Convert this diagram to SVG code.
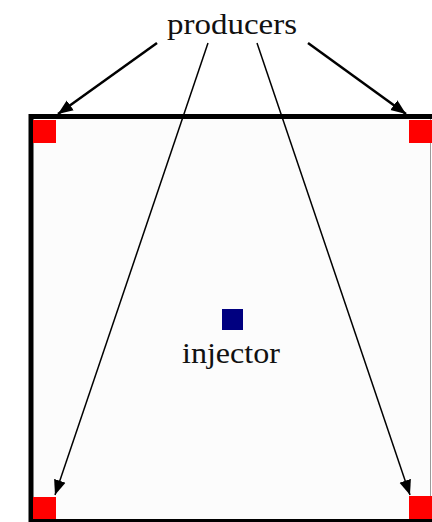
<svg xmlns="http://www.w3.org/2000/svg" width="432" height="522" viewBox="0 0 432 522">
<style>
.lbl{font-family:"Liberation Serif","Times New Roman",serif;font-size:30px;fill:#111}
.prod{fill:#ff0000}
.conn{stroke:#000;fill:none}
</style>
<defs>
<marker id="ah" markerUnits="userSpaceOnUse" markerWidth="16" markerHeight="14" viewBox="0 0 16 14" refX="15" refY="7" orient="auto">
<path d="M0,1 L15,7 L0,13 Z" fill="#000"/>
</marker>
</defs>
<rect width="432" height="522" fill="#fff"/>
<g id="field">
<rect x="31" y="116" width="400" height="404" fill="#fcfcfc"/>
<line x1="430.5" y1="116" x2="430.5" y2="522" stroke="#999" stroke-width="1"/>
<line x1="31" y1="114" x2="31" y2="522" stroke="#000" stroke-width="5"/>
<line x1="29" y1="116.5" x2="432" y2="116.5" stroke="#000" stroke-width="5"/>
<line x1="29" y1="520.5" x2="432" y2="520.5" stroke="#000" stroke-width="3"/>
</g>
<g id="producer-tl"><rect class="prod" x="33" y="120" width="23" height="23"/></g>
<g id="producer-tr"><rect class="prod" x="409" y="120" width="23" height="23"/></g>
<g id="producer-bl"><rect class="prod" x="33" y="497" width="23" height="22"/></g>
<g id="producer-br"><rect class="prod" x="409" y="496" width="23" height="23"/></g>
<g id="injector">
<rect x="222" y="309" width="21" height="21" fill="#000080"/>
<text class="lbl" x="182" y="363" textLength="98" lengthAdjust="spacingAndGlyphs">injector</text>
</g>
<g id="producers-label">
<text class="lbl" x="167" y="34" textLength="130" lengthAdjust="spacingAndGlyphs">producers</text>
</g>
<g id="connectors">
<line class="conn" x1="157" y1="43" x2="58" y2="114" stroke-width="2.5" marker-end="url(#ah)"/>
<line class="conn" x1="308" y1="43" x2="406" y2="114" stroke-width="2.5" marker-end="url(#ah)"/>
<line class="conn" x1="208" y1="43" x2="55" y2="495" stroke-width="1.5" marker-end="url(#ah)"/>
<line class="conn" x1="257" y1="43" x2="410" y2="495" stroke-width="1.5" marker-end="url(#ah)"/>
</g>
</svg>
